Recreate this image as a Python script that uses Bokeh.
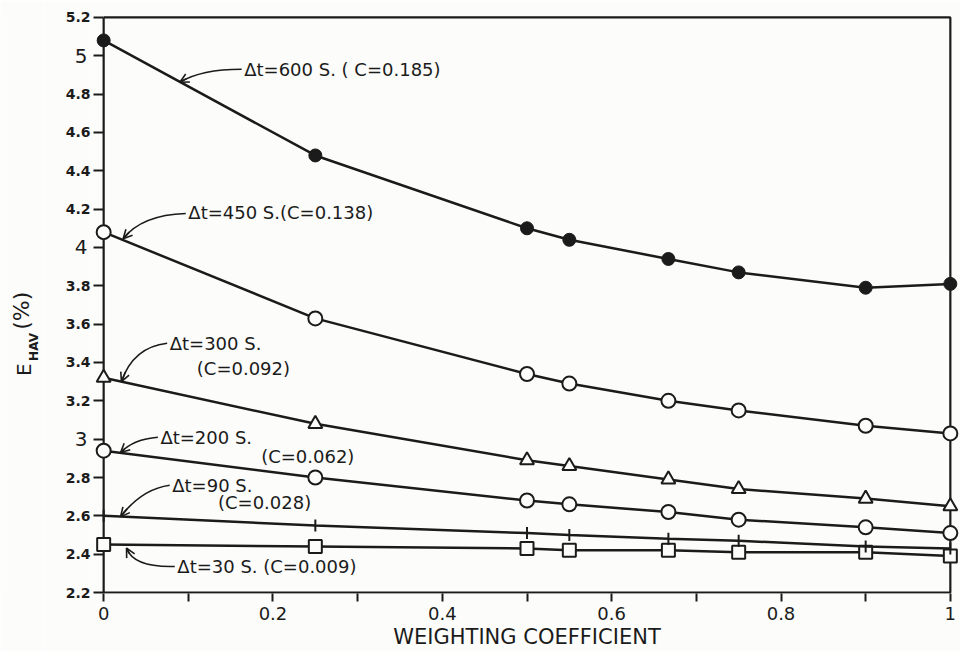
import math
from bokeh.plotting import figure
from bokeh.layouts import row
from bokeh.models import (Range1d, FixedTicker, CustomJSTickFormatter, LinearAxis,
                          Label, Arrow, OpenHead)
from bokeh.embed import file_html
from bokeh.resources import INLINE

# ---------------- data ----------------
weighting = [0, 0.25, 0.5, 0.55, 0.667, 0.75, 0.9, 1.0]
e_600 = [5.08, 4.48, 4.10, 4.04, 3.94, 3.87, 3.79, 3.81]
e_450 = [4.08, 3.63, 3.34, 3.29, 3.20, 3.15, 3.07, 3.03]
e_300 = [3.32, 3.08, 2.89, 2.86, 2.79, 2.74, 2.69, 2.65]
e_200 = [2.94, 2.80, 2.68, 2.66, 2.62, 2.58, 2.54, 2.51]
e_90 = [2.60, 2.55, 2.51, 2.50, 2.48, 2.47, 2.44, 2.43]
e_30 = [2.45, 2.44, 2.43, 2.42, 2.42, 2.41, 2.41, 2.39]

x_major = [0, 0.2, 0.4, 0.6, 0.8, 1.0]
x_minor = [0.1, 0.3, 0.5, 0.7, 0.9]
y_ticks = [2.2, 2.4, 2.6, 2.8, 3.0, 3.2, 3.4, 3.6, 3.8, 4.0, 4.2, 4.4, 4.6, 4.8, 5.0, 5.2]
y_big_ticks = [3, 4, 5]

X_MIN, X_MAX = 0.0, 1.0
Y_MIN, Y_MAX = 2.2, 5.2

labels_text = ["Δt=600 S. ( C=0.185)", "Δt=450 S.(C=0.138)", "Δt=300 S.",
               "(C=0.092)", "Δt=200 S.", "(C=0.062)", "Δt=90 S.", "(C=0.028)",
               "Δt=30 S. (C=0.009)"]
labels_x = [0.166, 0.100, 0.078, 0.110, 0.067, 0.186, 0.081, 0.135, 0.087]
labels_y = [4.93, 4.18, 3.50, 3.37, 3.01, 2.91, 2.76, 2.67, 2.335]

# leader curves: start, control, end
lead_x0 = [0.163, 0.097, 0.075, 0.064, 0.078, 0.084]
lead_y0 = [4.93, 4.177, 3.50, 3.01, 2.76, 2.336]
lead_cx = [0.115, 0.045, 0.035, 0.035, 0.045, 0.035]
lead_cy = [4.93, 4.17, 3.48, 3.00, 2.74, 2.33]
lead_x1 = [0.090, 0.023, 0.021, 0.020, 0.020, 0.027]
lead_y1 = [4.862, 4.045, 3.30, 2.93, 2.596, 2.432]

INK = "#1b1b1b"
BG = "#fcfcfa"
FONT = "DejaVu Sans"
H = 651
TITLE_W = 44

p = figure(width=960 - TITLE_W, height=H, output_backend="svg", toolbar_location=None,
           x_range=Range1d(-0.012, 1.012), y_range=Range1d(2.195, 5.21),
           min_border_left=49, min_border_right=0,
           min_border_top=15, min_border_bottom=58)
p.background_fill_color = BG
p.border_fill_color = BG
p.outline_line_color = None
p.xgrid.visible = False
p.ygrid.visible = False

fmt = CustomJSTickFormatter(code="return tick.toFixed(1).replace(/\\.0$/, '');")
fmt_small = CustomJSTickFormatter(
    code="var s = tick.toFixed(1); return s.endsWith('.0') ? '' : s;")
fmt_big = CustomJSTickFormatter(code="return tick.toFixed(0);")

# x axis
xa = p.xaxis[0]
xa.ticker = FixedTicker(ticks=x_major, minor_ticks=x_minor)
xa.formatter = fmt
xa.axis_line_color = None
xa.major_tick_line_color = INK
xa.minor_tick_line_color = INK
xa.major_tick_line_width = 2
xa.minor_tick_line_width = 2
xa.major_tick_out = 8
xa.major_tick_in = 0
xa.minor_tick_out = 8
xa.minor_tick_in = 0
xa.major_label_text_font = FONT
xa.major_label_text_font_size = "18px"
xa.major_label_text_color = INK
xa.major_label_standoff = 5
xa.axis_label = "WEIGHTING COEFFICIENT"
xa.axis_label_text_font = FONT
xa.axis_label_text_font_style = "normal"
xa.axis_label_text_font_size = "21px"
xa.axis_label_text_color = INK
xa.axis_label_standoff = 2

# y axis: ticks reach from the frame edge to the x = 0 line; small labels
ya = p.yaxis[0]
ya.ticker = FixedTicker(ticks=y_ticks, minor_ticks=[])
ya.formatter = fmt_small
ya.axis_line_color = None
ya.major_tick_line_color = INK
ya.major_tick_line_width = 2
ya.major_tick_out = 0
ya.major_tick_in = 10
ya.major_label_text_font = FONT
ya.major_label_text_font_size = "14px"
ya.major_label_text_font_style = "bold"
ya.major_label_text_color = INK
ya.major_label_standoff = 3

# second y axis carrying the larger integer labels
yb = LinearAxis(ticker=FixedTicker(ticks=y_big_ticks, minor_ticks=[]), formatter=fmt_big)
yb.axis_line_color = None
yb.major_tick_line_color = None
yb.major_tick_out = 0
yb.major_tick_in = 0
yb.major_label_text_font = FONT
yb.major_label_text_font_size = "20px"
yb.major_label_text_color = INK
yb.major_label_standoff = -25
p.add_layout(yb, "left")

# frame (left axis line, bottom, right, top)
p.line([X_MIN, X_MIN, X_MAX, X_MAX, X_MIN], [Y_MAX, Y_MIN, Y_MIN, Y_MAX, Y_MAX],
       line_color=INK, line_width=2.2)

# series
LW = 2.5
p.line(weighting, e_30, line_color=INK, line_width=LW)
p.scatter(weighting, e_30, marker="square", size=13, fill_color=BG,
          line_color=INK, line_width=2)

p.line(weighting, e_90, line_color=INK, line_width=LW)
p.scatter(weighting, e_90, marker="dash", angle=math.pi / 2, size=12,
          line_color=INK, line_width=2)

p.line(weighting, e_200, line_color=INK, line_width=LW)
p.scatter(weighting, e_200, marker="circle", size=14, fill_color=BG,
          line_color=INK, line_width=2)

p.line(weighting, e_300, line_color=INK, line_width=LW)
p.scatter(weighting, e_300, marker="triangle", size=14, fill_color=BG,
          line_color=INK, line_width=2)

p.line(weighting, e_450, line_color=INK, line_width=LW)
p.scatter(weighting, e_450, marker="circle", size=14, fill_color=BG,
          line_color=INK, line_width=2)

p.line(weighting, e_600, line_color=INK, line_width=LW)
p.scatter(weighting, e_600, marker="circle", size=13, fill_color=INK,
          line_color=INK, line_width=1)

# leader curves with arrow heads
p.quadratic(x0=lead_x0, y0=lead_y0, x1=lead_x1, y1=lead_y1, cx=lead_cx, cy=lead_cy,
            line_color=INK, line_width=1.6)
for x0, y0, cx, cy, x1, y1 in zip(lead_x0, lead_y0, lead_cx, lead_cy, lead_x1, lead_y1):
    t = 0.85
    bx = (1 - t) ** 2 * x0 + 2 * (1 - t) * t * cx + t ** 2 * x1
    by = (1 - t) ** 2 * y0 + 2 * (1 - t) * t * cy + t ** 2 * y1
    p.add_layout(Arrow(x_start=bx, y_start=by, x_end=x1, y_end=y1,
                       line_color=INK, line_width=1.6,
                       end=OpenHead(size=9, line_color=INK, line_width=1.6)))

for txt, lx, ly in zip(labels_text, labels_x, labels_y):
    p.add_layout(Label(x=lx, y=ly, text=txt, text_font=FONT, text_font_size="18px",
                       text_color=INK, text_baseline="middle", text_align="left"))

# ---- narrow panel holding the rotated y-axis title: E_HAV (%) ----
tp = figure(width=TITLE_W, height=H, output_backend="svg", toolbar_location=None,
            x_range=Range1d(0, TITLE_W), y_range=Range1d(0, H),
            x_axis_location=None, y_axis_location=None,
            min_border_left=0, min_border_right=0, min_border_top=0, min_border_bottom=0)
tp.grid.visible = False
tp.outline_line_color = None
tp.background_fill_color = BG
tp.border_fill_color = BG
tp.add_layout(Label(x=23, y=245, text="E", angle=math.pi / 2, text_font=FONT,
                    text_font_size="20px", text_color=INK, text_baseline="middle",
                    text_align="left"))
tp.add_layout(Label(x=33, y=262, text="HAV", angle=math.pi / 2, text_font=FONT,
                    text_font_size="12px", text_font_style="bold", text_color=INK,
                    text_baseline="middle", text_align="left"))
tp.add_layout(Label(x=21, y=297, text="(%)", angle=math.pi / 2, text_font=FONT,
                    text_font_size="22px", text_color=INK, text_baseline="middle",
                    text_align="left"))

layout = row(tp, p, spacing=0)
open("out.html", "w").write(file_html(layout, INLINE))
